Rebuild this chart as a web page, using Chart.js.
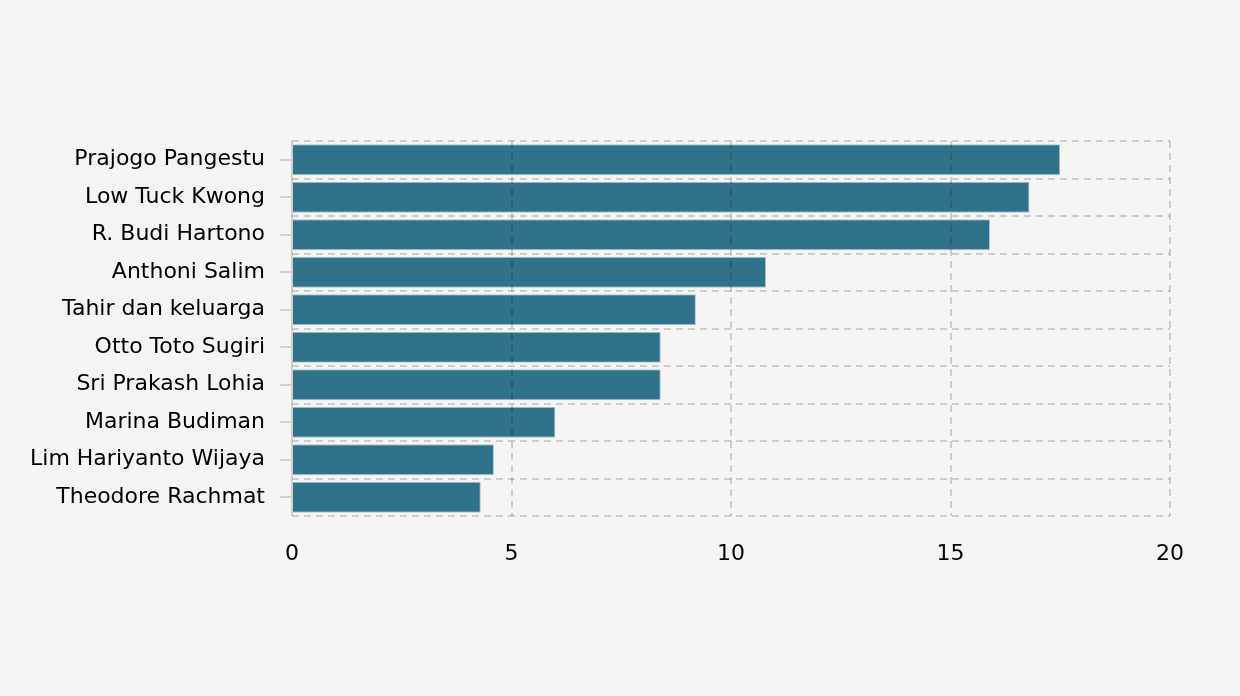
<!DOCTYPE html>
<html>
<head>
<meta charset="utf-8">
<script src="https://cdn.jsdelivr.net/npm/chart.js@4"></script>
<style>
  html, body { margin: 0; padding: 0; background: #f5f5f5; }
  #wrap { width: 1240px; height: 696px; }
</style>
</head>
<body>
<div id="wrap"><canvas id="c" width="1240" height="696"></canvas></div>
<script>
const categories = [
  "Prajogo Pangestu", "Low Tuck Kwong", "R. Budi Hartono", "Anthoni Salim",
  "Tahir dan keluarga", "Otto Toto Sugiri", "Sri Prakash Lohia",
  "Marina Budiman", "Lim Hariyanto Wijaya", "Theodore Rachmat"
];
const values = [17.5, 16.8, 15.9, 10.8, 9.2, 8.4, 8.4, 6.0, 4.6, 4.3];
const xTicks = [0, 5, 10, 15, 20];

const FONT = "'DejaVu Sans', Verdana, sans-serif";
const gridColor = "rgba(0,0,0,0.16)";

const yTickMarks = {
  id: "yTickMarks",
  afterDraw(chart) {
    const y = chart.scales.y, ctx = chart.ctx, left = chart.chartArea.left;
    ctx.save();
    ctx.strokeStyle = "#d2d2d2";
    ctx.lineWidth = 2;
    y.ticks.forEach((t, i) => {
      const py = Math.round(y.getPixelForTick(i));
      ctx.beginPath();
      ctx.moveTo(left - 12, py);
      ctx.lineTo(left, py);
      ctx.stroke();
    });
    ctx.restore();
  }
};

new Chart(document.getElementById("c"), {
  type: "bar",
  data: {
    labels: categories,
    datasets: [{
      data: values,
      backgroundColor: "#30728a",
      borderColor: "#a9c6d3",
      borderWidth: 1,
      categoryPercentage: 0.83,
      barPercentage: 1
    }]
  },
  options: {
    indexAxis: "y",
    responsive: false,
    animation: false,
    layout: { padding: { top: 141, right: 70, left: 0, bottom: 0 } },
    plugins: { legend: { display: false }, tooltip: { enabled: false } },
    scales: {
      x: {
        min: 0, max: 20,
        afterBuildTicks(scale) { scale.ticks = xTicks.map(v => ({ value: v })); },
        afterFit(scale) { scale.height = 180; },
        border: { display: false, dash: (ctx) => (ctx.tick && ctx.tick.value === 0 ? [] : [7, 5]) },
        grid: {
          color: (ctx) => (ctx.tick && ctx.tick.value === 0 ? "#cfcfcf" : gridColor),
          lineWidth: 2, z: 1, drawTicks: false
        },
        ticks: { color: "#000", font: { family: FONT, size: 22 }, padding: 25 }
      },
      y: {
        afterFit(scale) { scale.width = 292; },
        border: { display: false, dash: [7, 5] },
        grid: { color: gridColor, lineWidth: 2, z: 1, drawTicks: false, offset: true },
        ticks: { color: "#000", font: { family: FONT, size: 22 }, padding: 27 }
      }
    }
  },
  plugins: [yTickMarks]
});
</script>
</body>
</html>
